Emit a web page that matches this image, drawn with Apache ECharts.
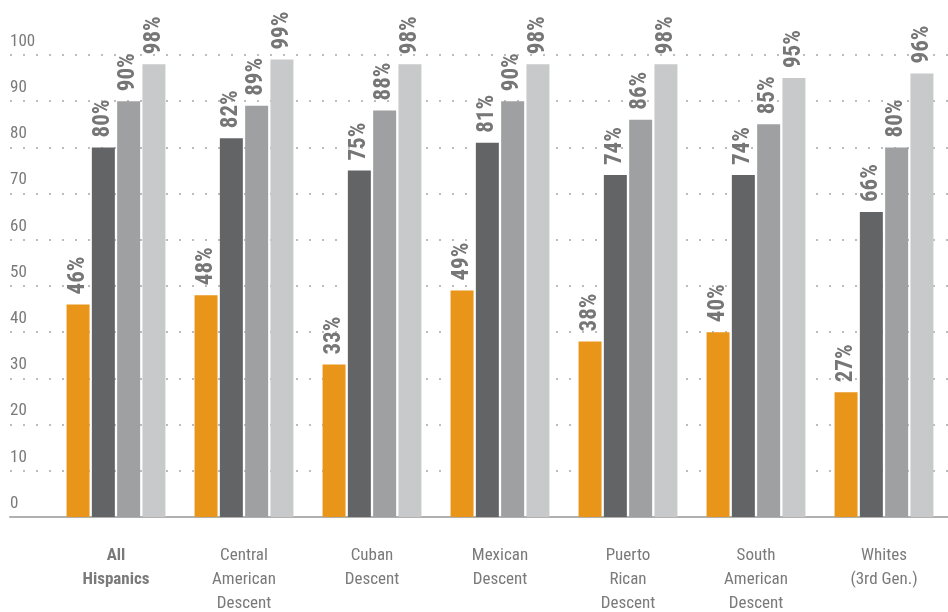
<!DOCTYPE html>
<html><head><meta charset="utf-8">
<script src="https://cdn.jsdelivr.net/npm/echarts@6/dist/echarts.min.js"></script>
<style>html,body{margin:0;padding:0;background:#fff}#c{width:948px;height:612px}</style>
</head><body><div id="c"></div>
<script>
const categories = ["All\nHispanics", "Central\nAmerican\nDescent", "Cuban\nDescent", "Mexican\nDescent", "Puerto\nRican\nDescent", "South\nAmerican\nDescent", "Whites\n(3rd Gen.)"];
const series1 = [46, 48, 33, 49, 38, 40, 27];
const series2 = [80, 82, 75, 81, 74, 74, 66];
const series3 = [90, 89, 88, 90, 86, 85, 80];
const series4 = [98, 99, 98, 98, 98, 95, 96];
const colors = ["#E8951A", "#636466", "#9FA0A2", "#C8C9CB"];
const FONT = "'Roboto Condensed', 'Liberation Sans Narrow', 'Arial Narrow', Roboto, sans-serif";

const chart = echarts.init(document.getElementById('c'));
function mk(data, i) {
  return {
    type: 'bar', data: data, xAxisIndex: 0, yAxisIndex: 0,
    barWidth: 23, barGap: '10%',
    itemStyle: { color: colors[i] },
    label: {
      show: true, position: 'top', rotate: 90, align: 'left', verticalAlign: 'middle',
      distance: 10, formatter: '{c}%', color: '#767676', fontWeight: 'bold',
      fontSize: 23, fontFamily: FONT
    },
    z: 3
  };
}
chart.setOption({
  animation: false,
  grid: [
    { left: 52, right: 0, top: 55, bottom: 95, containLabel: false, outerBoundsMode: 'none' },
    { left: 10, right: 0, top: 55, bottom: 95, containLabel: false, outerBoundsMode: 'none' }
  ],
  xAxis: [
    { type: 'category', gridIndex: 0, data: categories,
      axisLine: { show: false }, axisTick: { show: false },
      axisLabel: {
        margin: 27, color: '#7a7a7a', fontSize: 17, lineHeight: 24, fontFamily: FONT,
        formatter: function (v, idx) {
          if (idx === 0) return v.split('\n').map(s => '{b|' + s + '}').join('\n');
          return v;
        },
        rich: { b: { fontWeight: 'bold', fontSize: 17, lineHeight: 24, color: '#7a7a7a', fontFamily: FONT } }
      } },
    { type: 'value', gridIndex: 1, min: 0, max: 1, show: true,
      axisLine: { show: true, lineStyle: { color: '#b0b0b0', width: 2 } },
      axisTick: { show: false }, axisLabel: { show: false }, splitLine: { show: false } }
  ],
  yAxis: [
    { type: 'value', gridIndex: 0, min: 0, max: 100, interval: 10, show: false },
    { type: 'value', gridIndex: 1, min: 0, max: 100, interval: 10,
      axisLine: { show: false }, axisTick: { show: false },
      axisLabel: { inside: true, align: 'left', verticalAlign: 'bottom', padding: [0, 0, 5, 0],
        color: '#7a7a7a', fontSize: 17, fontFamily: FONT, margin: 0 },
      splitLine: { show: true, lineStyle: { color: '#bdbdbd', width: 2, type: [2, 11] } } }
  ],
  series: [mk(series1, 0), mk(series2, 1), mk(series3, 2), mk(series4, 3)]
});
</script></body></html>
